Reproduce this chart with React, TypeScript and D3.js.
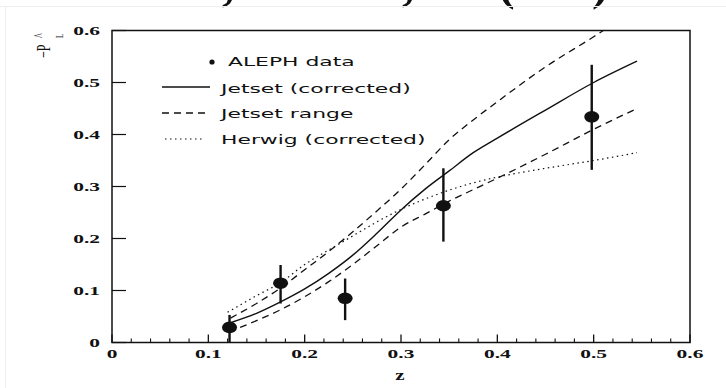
import React from "react";
import * as d3 from "d3";

// ALEPH measured points
const alephZ = [0.122, 0.175, 0.242, 0.344, 0.498];
const alephVal = [0.029, 0.114, 0.085, 0.263, 0.434];
const alephLo = [0.0, 0.075, 0.043, 0.194, 0.332];
const alephHi = [0.053, 0.149, 0.123, 0.335, 0.534];

// Jetset (corrected), solid
const jetsetZ = [0.123, 0.15, 0.175, 0.2, 0.225, 0.25, 0.275, 0.3, 0.325, 0.35, 0.375, 0.4, 0.45, 0.5, 0.545];
const jetsetVal = [0.038, 0.056, 0.078, 0.103, 0.133, 0.168, 0.21, 0.255, 0.295, 0.33, 0.365, 0.393, 0.447, 0.5, 0.541];

// Jetset range, upper and lower dashed
const upperZ = [0.123, 0.15, 0.175, 0.2, 0.225, 0.25, 0.275, 0.3, 0.325, 0.35, 0.375, 0.4, 0.45, 0.5, 0.51];
const upperVal = [0.047, 0.075, 0.105, 0.14, 0.175, 0.213, 0.253, 0.295, 0.342, 0.39, 0.428, 0.463, 0.53, 0.588, 0.6];
const lowerZ = [0.133, 0.15, 0.175, 0.2, 0.225, 0.25, 0.275, 0.3, 0.325, 0.35, 0.375, 0.4, 0.45, 0.5, 0.545];
const lowerVal = [0.029, 0.042, 0.063, 0.088, 0.117, 0.15, 0.186, 0.222, 0.247, 0.272, 0.294, 0.316, 0.362, 0.41, 0.45];

// Herwig (corrected), dotted
const herwigZ = [0.12, 0.15, 0.175, 0.2, 0.225, 0.25, 0.275, 0.3, 0.325, 0.35, 0.375, 0.4, 0.45, 0.5, 0.545];
const herwigVal = [0.058, 0.09, 0.115, 0.15, 0.178, 0.205, 0.232, 0.256, 0.276, 0.293, 0.307, 0.318, 0.335, 0.35, 0.365];

const xTicks = [0, 0.1, 0.2, 0.3, 0.4, 0.5, 0.6];
const xTickLabels = ["0", "0.1", "0.2", "0.3", "0.4", "0.5", "0.6"];
const yTicks = [0, 0.1, 0.2, 0.3, 0.4, 0.5, 0.6];
const yTickLabels = ["0", "0.1", "0.2", "0.3", "0.4", "0.5", "0.6"];

const legendLabels = ["ALEPH data", "Jetset (corrected)", "Jetset range", "Herwig (corrected)"];

const W = 726;
const H = 388;
const serif = "'Liberation Serif', 'Times New Roman', serif";
const sans = "'DejaVu Sans', sans-serif";

export default function App() {
  const x = d3.scaleLinear().domain([0, 0.6]).range([112, 690]);
  const y = d3.scaleLinear().domain([0, 0.6]).range([342.5, 30.5]);

  const line = d3
    .line<[number, number]>()
    .x((d) => x(d[0]))
    .y((d) => y(d[1]))
    .curve(d3.curveMonotoneX);

  const zip = (zs: number[], vs: number[]) => zs.map((z, i) => [z, vs[i]] as [number, number]);

  // minor ticks every 0.02 on z
  const minorTicks = d3.range(0, 31).map((i) => i * 0.02).filter((v) => Math.abs(v * 10 - Math.round(v * 10)) > 1e-6);

  return (
    <div style={{ position: "absolute", left: 0, top: 0 }}>
      <svg width={W} height={H} style={{ display: "block", background: "#fff" }}>
        {/* cut-off header line of the scanned page */}
        <text y={-1} fontFamily={serif} fontWeight="bold" fontSize={50} fill="#111">
          <tspan x={222}>,</tspan>
          <tspan x={402}>,</tspan>
          <tspan x={498}>(</tspan>
          <tspan x={592}>)</tspan>
        </text>
        <line x1={0} x2={W} y1={6.5} y2={6.5} stroke="#eee" strokeWidth={1} />
        <line x1={5.5} x2={5.5} y1={6} y2={H} stroke="#eee" strokeWidth={1} />

        {/* frame */}
        <rect x={x(0)} y={y(0.6)} width={x(0.6) - x(0)} height={y(0) - y(0.6)} fill="none" stroke="#111" strokeWidth={1.5} />

        {/* x ticks */}
        {xTicks.map((t) => (
          <line key={`xt${t}`} x1={x(t)} x2={x(t)} y1={y(0)} y2={y(0) - 8} stroke="#111" strokeWidth={1.3} />
        ))}
        {minorTicks.map((t) => (
          <line key={`xm${t}`} x1={x(t)} x2={x(t)} y1={y(0)} y2={y(0) - 4} stroke="#111" strokeWidth={1.1} />
        ))}
        {xTicks.map((t, i) => (
          <text
            key={`xl${t}`}
            transform={`translate(${x(t)},357.5) scale(1.65,1)`}
            textAnchor="middle"
            fontFamily={serif}
            fontWeight="bold"
            fontSize={13}
            fill="#111"
          >
            {xTickLabels[i]}
          </text>
        ))}

        {/* y ticks */}
        {yTicks.map((t) => (
          <line key={`yt${t}`} x1={x(0)} x2={x(0) + 14} y1={y(t)} y2={y(t)} stroke="#111" strokeWidth={1.2} />
        ))}
        {yTicks.map((t, i) => (
          <text
            key={`yl${t}`}
            transform={`translate(100,${y(t) + 4.3}) scale(1.65,1)`}
            textAnchor="end"
            fontFamily={serif}
            fontWeight="bold"
            fontSize={13}
            fill="#111"
          >
            {yTickLabels[i]}
          </text>
        ))}

        {/* axis titles */}
        <text transform="translate(400,379.5) scale(1.4,1)" textAnchor="middle" fontFamily={serif} fontWeight="bold" fontSize={15} fill="#111">
          z
        </text>
        <g transform="translate(50,58) scale(1.6,1) rotate(-90)" fontFamily={serif} fill="#111">
          <text x={0} y={0} fontSize={12}>−P</text>
          <text x={20} y={-3} fontSize={10}>^</text>
          <text x={20} y={8} fontSize={7}>L</text>
        </g>

        {/* model curves */}
        <path d={line(zip(upperZ, upperVal)) || ""} fill="none" stroke="#111" strokeWidth={1.3} strokeDasharray="7,5" />
        <path d={line(zip(lowerZ, lowerVal)) || ""} fill="none" stroke="#111" strokeWidth={1.3} strokeDasharray="7,5" />
        <path d={line(zip(herwigZ, herwigVal)) || ""} fill="none" stroke="#111" strokeWidth={1.2} strokeDasharray="1.5,3.5" />
        <path d={line(zip(jetsetZ, jetsetVal)) || ""} fill="none" stroke="#111" strokeWidth={1.4} />

        {/* ALEPH data */}
        {alephZ.map((z, i) => (
          <g key={`d${i}`}>
            <line x1={x(z)} x2={x(z)} y1={y(alephLo[i])} y2={y(alephHi[i])} stroke="#111" strokeWidth={2.4} />
            <ellipse cx={x(z)} cy={y(alephVal[i])} rx={7.5} ry={5.8} fill="#111" />
          </g>
        ))}

        {/* legend */}
        <circle cx={212} cy={62} r={2.6} fill="#111" />
        <line x1={162} x2={210} y1={87} y2={87} stroke="#111" strokeWidth={1.3} />
        <line x1={162} x2={210} y1={113} y2={113} stroke="#111" strokeWidth={1.3} strokeDasharray="7,5" />
        <line x1={165} x2={205} y1={139} y2={139} stroke="#111" strokeWidth={1.2} strokeDasharray="1.5,3.5" />
        {legendLabels.map((lab, i) => (
          <text
            key={lab}
            transform={`translate(${i === 0 ? 228 : 221},${[66, 92.5, 118, 144][i]}) scale(1.75,1)`}
            fontFamily={sans}
            fontSize={12.5}
            fill="#111"
          >
            {lab}
          </text>
        ))}
      </svg>
    </div>
  );
}
